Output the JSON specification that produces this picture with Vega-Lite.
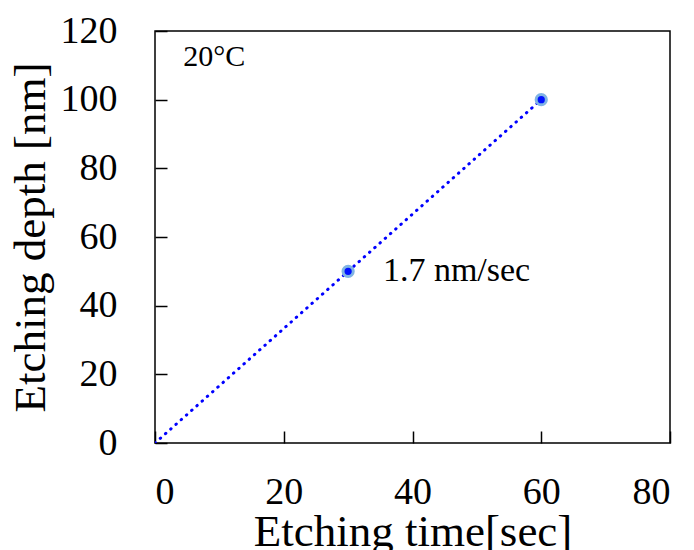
{
  "$schema": "https://vega.github.io/schema/vega-lite/v6.json",
  "width": 515,
  "height": 412,
  "autosize": {"type": "none"},
  "padding": {"left": 155, "top": 31, "right": 24, "bottom": 107},
  "background": "white",
  "config": {
    "view": {"stroke": "black", "strokeWidth": 1.5},
    "font": "Liberation Serif",
    "axis": {
      "grid": false,
      "domain": false,
      "tickColor": "black",
      "tickWidth": 1.5,
      "tickSize": -12,
      "labelFont": "Liberation Serif",
      "labelFontSize": 38,
      "labelColor": "black",
      "titleFont": "Liberation Serif",
      "titleFontSize": 45,
      "titleFontWeight": "normal",
      "titleColor": "black"
    }
  },
  "datasets": {
    "fit": [{"t": 0, "d": 0}, {"t": 60, "d": 100}],
    "pts": [{"t": 30, "d": 50}, {"t": 60, "d": 100}],
    "notes": [
      {"t": 4.4, "d": 112.4, "label": "20°C", "kind": "temp"},
      {"t": 35.4, "d": 50, "label": "1.7 nm/sec", "kind": "rate"}
    ]
  },
  "layer": [
    {
      "data": {"name": "fit"},
      "mark": {"type": "line", "color": "#0000ff", "strokeWidth": 3, "strokeDash": [0.5, 6.5], "strokeCap": "round", "clip": true},
      "encoding": {
        "x": {"field": "t", "type": "quantitative", "scale": {"domain": [0, 80]},
              "axis": {"values": [0, 20, 40, 60, 80], "title": "Etching time[sec]", "labelPadding": 42, "titlePadding": -2}},
        "y": {"field": "d", "type": "quantitative", "scale": {"domain": [0, 120]},
              "axis": {"values": [0, 20, 40, 60, 80, 100, 120], "title": "Etching depth [nm]", "labelPadding": 50, "titlePadding": 7}}
      }
    },
    {
      "data": {"name": "pts"},
      "mark": {"type": "point", "filled": true, "fill": "#0010ff", "stroke": "#80b4e4", "strokeWidth": 3, "size": 105, "opacity": 1},
      "encoding": {
        "x": {"field": "t", "type": "quantitative"},
        "y": {"field": "d", "type": "quantitative"}
      }
    },
    {
      "data": {"name": "notes"},
      "transform": [{"filter": "datum.kind == 'temp'"}],
      "mark": {"type": "text", "align": "left", "baseline": "middle", "fontSize": 30, "font": "Liberation Serif", "color": "black"},
      "encoding": {
        "x": {"field": "t", "type": "quantitative"},
        "y": {"field": "d", "type": "quantitative"},
        "text": {"field": "label"}
      }
    },
    {
      "data": {"name": "notes"},
      "transform": [{"filter": "datum.kind == 'rate'"}],
      "mark": {"type": "text", "align": "left", "baseline": "middle", "fontSize": 34, "font": "Liberation Serif", "color": "black"},
      "encoding": {
        "x": {"field": "t", "type": "quantitative"},
        "y": {"field": "d", "type": "quantitative"},
        "text": {"field": "label"}
      }
    }
  ]
}
